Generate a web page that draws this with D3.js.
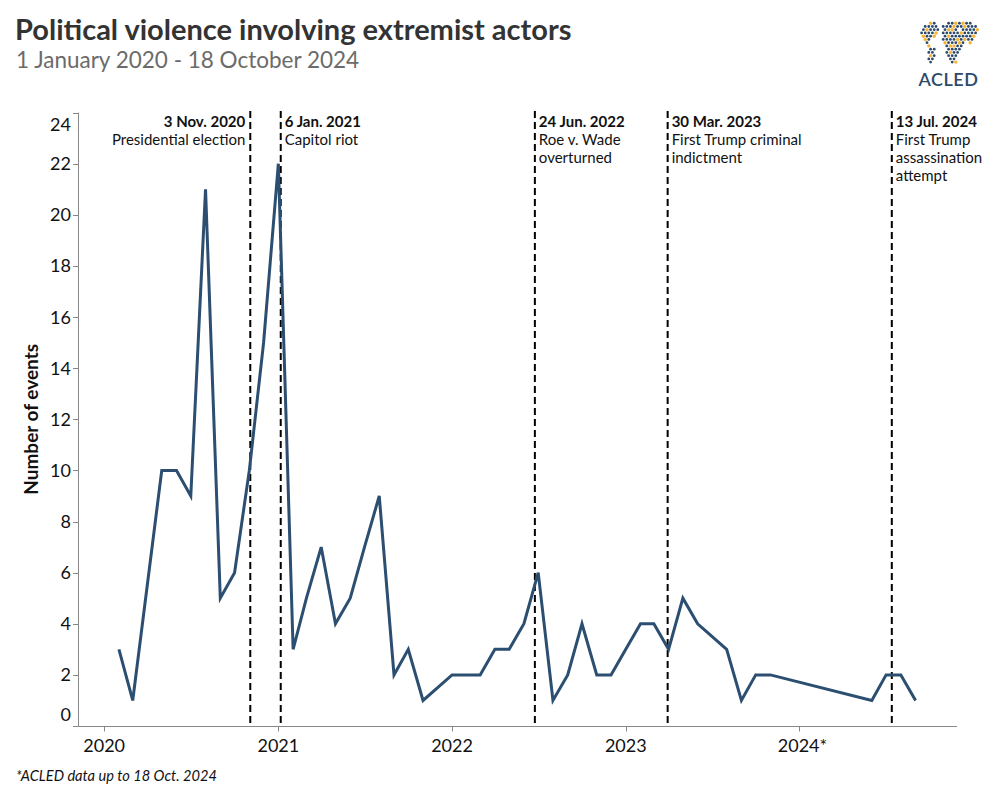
<!DOCTYPE html>
<html>
<head>
<meta charset="utf-8">
<script src="https://cdn.jsdelivr.net/npm/d3@7"></script>
<style>
  html, body { margin: 0; padding: 0; background: #fff; }
  svg { display: block; font-family: Lato, "Noto Sans", sans-serif; }
</style>
</head>
<body>
<div id="chart"></div>
<script>
// ---- data ----
const months = ["2020-02","2020-03","2020-05","2020-06","2020-07","2020-08","2020-09","2020-10","2020-11","2020-12",
  "2021-01","2021-02","2021-03","2021-04","2021-05","2021-06","2021-07","2021-08","2021-09","2021-10","2021-11",
  "2022-01","2022-02","2022-03","2022-04","2022-05","2022-06","2022-07","2022-08","2022-09","2022-10","2022-11","2022-12",
  "2023-01","2023-02","2023-03","2023-04","2023-05","2023-06","2023-08","2023-09","2023-10","2023-11",
  "2024-06","2024-07","2024-08","2024-09"];
const events = [3,1,10,10,9,21,5,6,10,15,
  22,3,5,7,4,5,7,9,2,3,1,
  2,2,2,3,3,4,6,1,2,4,2,2,
  3,4,4,3,5,4,3,1,2,2,
  1,2,2,1];

const markerDates = ["2020-11-03","2021-01-06","2022-06-24","2023-03-30","2024-07-13"];
const markerTitles = ["3 Nov. 2020","6 Jan. 2021","24 Jun. 2022","30 Mar. 2023","13 Jul. 2024"];
const markerLabels = [["Presidential election"],["Capitol riot"],["Roe v. Wade","overturned"],["First Trump criminal","indictment"],["First Trump","assassination","attempt"]];
const markerAnchors = ["end","start","start","start","start"];

const xTickDates = ["2020-01-01","2021-01-01","2022-01-01","2023-01-01","2024-01-01"];
const xTickLabels = ["2020","2021","2022","2023","2024*"];
const yTicks = [0,2,4,6,8,10,12,14,16,18,20,22,24];
const xDomain = ["2019-11-07","2024-11-27"];
const yDomain = [0,24];

const titleText = "Political violence involving extremist actors";
const subtitleText = "1 January 2020 - 18 October 2024";
const yTitle = "Number of events";
const footnote = "*ACLED data up to 18 Oct. 2024";

// ---- setup ----
const W = 1000, H = 800;
const svg = d3.select("#chart").append("svg").attr("width", W).attr("height", H);
const parse = d3.utcParse("%Y-%m-%d");
const parseM = d3.utcParse("%Y-%m");

const x = d3.scaleUtc().domain(xDomain.map(parse)).range([78, 957]);
const y = d3.scaleLinear().domain(yDomain).range([726, 112.6]);

const data = months.map((m, i) => ({ date: parseM(m), value: events[i] }));

// Title
svg.append("text").attr("x", 15).attr("y", 40).attr("font-size", 29).attr("font-weight", 700)
  .attr("fill", "#333").text(titleText);
svg.append("text").attr("x", 16).attr("y", 68).attr("font-size", 22.5).attr("fill", "#6b6b6b").text(subtitleText);

// Axes
const axisColor = "#888";
const gx = svg.append("g");
gx.append("line").attr("x1", 78).attr("x2", 957).attr("y1", 726.5).attr("y2", 726.5).attr("stroke", axisColor);
xTickDates.forEach((d, i) => {
  const px = Math.round(x(parse(d))) + 0.5;
  gx.append("line").attr("x1", px).attr("x2", px).attr("y1", 726.5).attr("y2", 731.5).attr("stroke", axisColor);
  gx.append("text").attr("x", x(parse(d)) + (xTickLabels[i].endsWith("*") ? 3 : 0)).attr("y", 752)
    .attr("text-anchor", "middle").attr("font-size", 18).attr("fill", "#111").text(xTickLabels[i]);
});

const gy = svg.append("g");
gy.append("line").attr("x1", 78.5).attr("x2", 78.5).attr("y1", y(24)).attr("y2", 726.5).attr("stroke", axisColor);
yTicks.forEach(t => {
  const py = Math.round(y(t)) + 0.5;
  gy.append("line").attr("x1", 73).attr("x2", 78.5).attr("y1", py).attr("y2", py).attr("stroke", axisColor);
  let base = y(t) + 6.5;
  if (t === yDomain[0]) base = y(t) - 5.5;
  if (t === yDomain[1]) base = y(t) + 18;
  gy.append("text").attr("x", 71).attr("y", base).attr("text-anchor", "end")
    .attr("font-size", 18).attr("fill", "#111").text(t);
});
svg.append("text").attr("transform", `translate(38,${(y(0)+y(24))/2}) rotate(-90)`)
  .attr("text-anchor", "middle").attr("font-size", 19).attr("font-weight", 700).attr("fill", "#111").text(yTitle);

// Marker rules + annotations
markerDates.forEach((d, i) => {
  const px = x(parse(d));
  svg.append("line").attr("x1", px).attr("x2", px).attr("y1", 111).attr("y2", 726)
    .attr("stroke", "#000").attr("stroke-width", 2).attr("stroke-dasharray", "7,4");
  const anchor = markerAnchors[i];
  const tx = anchor === "end" ? px - 5 : px + 4;
  const t = svg.append("text").attr("text-anchor", anchor).attr("font-size", 15).attr("fill", "#111");
  t.append("tspan").attr("x", tx).attr("y", 127).attr("font-weight", 700).text(markerTitles[i]);
  markerLabels[i].forEach((l, j) => {
    t.append("tspan").attr("x", tx).attr("y", 145 + j * 18).text(l);
  });
});

// Line
const line = d3.line().x(d => x(d.date)).y(d => y(d.value));
svg.append("path").datum(data).attr("d", line).attr("fill", "none")
  .attr("stroke", "#2c4e70").attr("stroke-width", 3);

// Footnote
svg.append("text").attr("x", 16).attr("y", 781).attr("font-size", 14.6).attr("font-style", "italic")
  .attr("fill", "#111").text(footnote);

// ACLED logo (decorative)
const logo = svg.append("g");
const continents = [
  [[920,30],[928,24],[937,21],[939,29],[933,38],[928,44],[922,40]],
  [[928,45],[936,47],[936,56],[931,64],[927,55]],
  [[943,26],[952,21],[960,23],[959,33],[966,40],[961,52],[955,64],[950,62],[946,50],[941,42],[942,34]],
  [[958,22],[970,22],[979,29],[977,38],[969,45],[962,38],[960,30]]
];
const step = 3.6;
for (let r = 0; r < 14; r++) {
  for (let c = 0; c < 19; c++) {
    const px = 918 + c * step + (r % 2 ? step / 2 : 0);
    const py = 20 + r * step * 0.9;
    if (continents.some(p => d3.polygonContains(p, [px, py]))) {
      const gold = ((r * 5 + c * 3) % 7 === 0) || ((r * 2 + c) % 11 === 3);
      logo.append("circle").attr("cx", px).attr("cy", py).attr("r", gold ? 1.7 : 1.4)
        .attr("fill", gold ? "#f5b335" : "#2d4a6b");
    }
  }
}
logo.append("text").attr("x", 948.5).attr("y", 86).attr("text-anchor", "middle").attr("font-size", 18)
  .attr("font-weight", 600).attr("letter-spacing", 0.5).attr("fill", "#2d4a6b").text("ACLED");
</script>
</body>
</html>
